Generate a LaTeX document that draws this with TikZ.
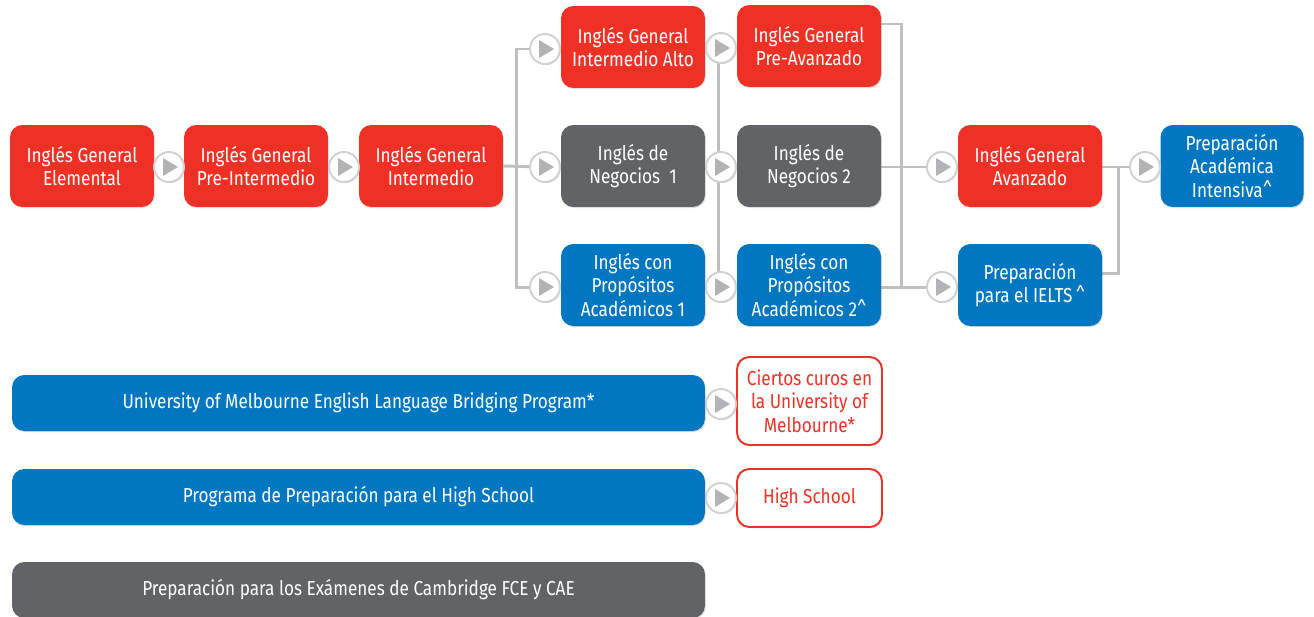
\documentclass[tikz,border=0pt]{standalone}
\usepackage{fontspec}
\setmainfont{Fira Sans}[FakeStretch=0.85]
\usetikzlibrary{calc,shadows,backgrounds}
\definecolor{boxred}{RGB}{238,49,36}
\definecolor{boxgray}{RGB}{98,99,102}
\definecolor{boxblue}{RGB}{0,119,192}
\definecolor{linkgray}{RGB}{190,191,193}
\definecolor{trigray}{RGB}{178,179,181}
\tikzset{
  course/.style={
    rounded corners=7pt,
    minimum width=2.88cm,
    minimum height=1.64cm,
    inner sep=2pt,
    align=center,
    text=white,
    font=\fontsize{11.5}{13.3}\selectfont,
    drop shadow={shadow xshift=0.5pt, shadow yshift=-0.6pt, opacity=0.25}
  },
  course-red/.style={course, fill=boxred},
  course-gray/.style={course, fill=boxgray},
  course-blue/.style={course, fill=boxblue},
  course-outline/.style={course, fill=white, draw=boxred, line width=1.1pt, text=boxred},
  bar-blue/.style={course-blue, minimum width=13.86cm, minimum height=1.12cm},
  bar-gray/.style={course-gray, minimum width=13.86cm, minimum height=1.12cm},
  link/.style={draw=linkgray, line width=1.7pt},
  node-step/.style={circle, fill=white, draw=black!18, line width=1.1pt, minimum size=0.6cm, inner sep=0pt,
    drop shadow={shadow xshift=0.4pt, shadow yshift=-0.6pt, opacity=0.35}}
}
% arrow circle: name, position
\newcommand{\nextstep}[2]{
  \node[node-step] (#1) at (#2) {};
  \fill[trigray] ($(#1)+(-6,-9)$) -- ($(#1)+(9,0)$) -- ($(#1)+(-6,9)$) -- cycle;
}

\begin{document}
\begin{tikzpicture}[x=0.02cm, y=-0.02cm]
  \useasboundingbox (0,0) rectangle (1314,616);
  \clip (0,0) rectangle (1314,616);
  % General English line
  \node[course-red] (elem) at (82,166) {Inglés General\\Elemental};
  \node[course-red] (preint) at (256,166) {Inglés General\\Pre-Intermedio};
  \node[course-red] (inter) at (431,166) {Inglés General\\Intermedio};
  \nextstep{s-preint}{169,167}
  \nextstep{s-inter}{344,167}
  % second column
  \node[course-red] (alto) at (633,47) {Inglés General\\Intermedio Alto};
  \node[course-gray] (nego1) at (633,166) {Inglés de\\Negocios~~1};
  \node[course-blue] (acad1) at (633,285) {Inglés con\\Propósitos\\Académicos 1};
  \nextstep{a-alto}{545,49}
  \nextstep{a-nego1}{545,167}
  \nextstep{a-acad1}{545,287}
  % third column
  \node[course-red] (preav) at (809,46) {Inglés General\\Pre-Avanzado};
  \node[course-gray] (nego2) at (809,166) {Inglés de\\Negocios 2};
  \node[course-blue] (acad2) at (809,285) {Inglés con\\Propósitos\\Académicos 2\textasciicircum};
  \nextstep{b-preav}{721,48}
  \nextstep{b-nego2}{721,167}
  \nextstep{b-acad2}{721,287}
  % fourth column
  \node[course-red] (avan) at (1030,166) {Inglés General\\Avanzado};
  \node[course-blue] (ielts) at (1030,285) {Preparación\\para el IELTS\,\textasciicircum};
  \nextstep{c-avan}{942,167}
  \nextstep{c-ielts}{942,287}
  % last one
  \node[course-blue, minimum width=2.86cm] (inten) at (1232,166) {Preparación\\Académica\\Intensiva\textasciicircum};
  \nextstep{d-inten}{1145,167}
  % programmes below
  \node[bar-blue] (melb) at (358.5,403) {University of Melbourne English Language Bridging Program*};
  \node[bar-blue] (high) at (358.5,497) {Programa de Preparación para el High School};
  \node[bar-gray] (camb) at (358.5,590) {Preparación para los Exámenes de Cambridge FCE y CAE};
  \node[course-outline, minimum width=2.9cm, minimum height=1.76cm] (cursos) at (809.5,401) {Ciertos curos en\\la University of\\Melbourne*};
  \node[course-outline, minimum width=2.9cm, minimum height=1.16cm] (school) at (809.5,498) {High School};
  \nextstep{e-melb}{721,404}
  \nextstep{e-high}{721,498}
  % connectors
  \coordinate (split-a) at (516,167);
  \coordinate (split-c) at (901,24);
  \coordinate (split-d) at (1118,167);
  \begin{scope}[on background layer]
    \draw[link] (inter.east) -- (a-nego1.center);
    \draw[link] (a-alto.center) -| (split-a) |- (a-acad1.center);
    \draw[link] (alto.east |- b-preav) -- (b-preav.center);
    \draw[link] (nego1.east |- b-nego2) -- (b-nego2.center);
    \draw[link] (acad1.east |- b-acad2) -- (b-acad2.center);
    \draw[link] ([xshift=-3*0.02cm]b-preav.center) -- ([xshift=-3*0.02cm]b-acad2.center);
    \draw[link] (preav.east |- split-c) -- (split-c) -- (split-c |- c-ielts);
    \draw[link] (nego2.east |- c-avan) -- (c-avan.center);
    \draw[link] (acad2.east |- c-ielts) -- (c-ielts.center);
    \draw[link] (avan.east |- d-inten) -- (d-inten.center);
    \draw[link] ($(ielts.east)+(0,-12)$) -| (split-d);
  \end{scope}
\end{tikzpicture}
\end{document}
